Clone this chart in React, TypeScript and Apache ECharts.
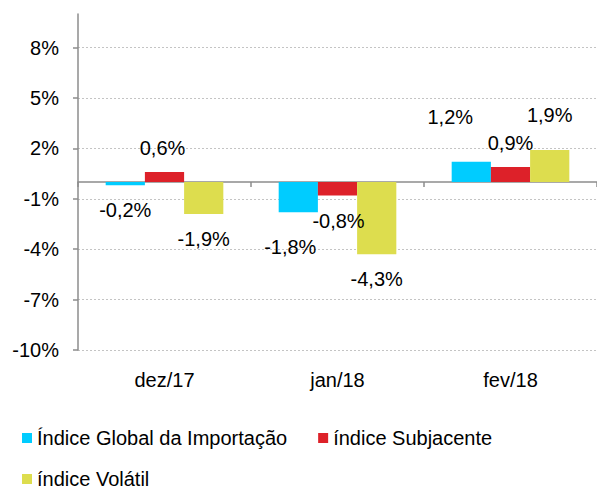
import React, { useEffect, useRef } from "react";
import * as echarts from "echarts";

const categories = ["dez/17", "jan/18", "fev/18"];
const seriesNames = ["Índice Global da Importação", "índice Subjacente", "índice Volátil"];
const globalValues = [-0.2, -1.8, 1.2];
const subjacenteValues = [0.6, -0.8, 0.9];
const volatilValues = [-1.9, -4.3, 1.9];
const yTicks = [-10, -7, -4, -1, 2, 5, 8];

const colors = ["#00CCFF", "#DD2129", "#DDDD4E"];
// label offsets [dx, dy] per series per category
const labelOffsets = [
  [[0, 10], [-8, 20], [-21, -30]],
  [[-2, -9], [1, 11], [0, -9]],
  [[0, 10], [0, 10], [0, -20]],
];

const FONT = "Arial, 'Liberation Sans', sans-serif";
const FS = 20;

const fmt = (v: number) => v.toFixed(1).replace(".", ",") + "%";

export default function App() {
  const ref = useRef<HTMLDivElement>(null);
  useEffect(() => {
    document.body.style.margin = "0";
    if (!ref.current) return;
    const chart = echarts.init(ref.current, null, { renderer: "svg" });
    const allValues = [globalValues, subjacenteValues, volatilValues];
    const series = allValues.map((vals, si) => ({
      name: seriesNames[si],
      type: "bar",
      xAxisIndex: 0,
      barGap: "0%",
      barCategoryGap: "32%",
      itemStyle: { color: colors[si] },
      data: vals.map((v, ci) => ({
        value: v,
        label: {
          show: true,
          position: v >= 0 ? "top" : "bottom",
          offset: labelOffsets[si][ci],
          formatter: (p: any) => fmt(p.value),
          color: "#000",
          fontSize: FS,
          fontFamily: FONT,
        },
      })),
    }));
    chart.setOption({
      animation: false,
      backgroundColor: "#fff",
      textStyle: { fontFamily: FONT },
      grid: { left: 78, right: -5, top: 14, bottom: 140, containLabel: false },
      legend: [
        {
          data: [seriesNames[0], seriesNames[1]],
          left: 17,
          top: 423,
          itemWidth: 10,
          itemHeight: 10,
          itemGap: 31,
          icon: "rect",
          textStyle: { fontSize: FS, color: "#000", fontFamily: FONT },
        },
        {
          data: [seriesNames[2]],
          left: 17,
          top: 464,
          itemWidth: 10,
          itemHeight: 10,
          icon: "rect",
          textStyle: { fontSize: FS, color: "#000", fontFamily: FONT },
        },
      ],
      xAxis: [
        {
          type: "category",
          data: categories,
          position: "bottom",
          axisLine: { show: false, onZero: false },
          axisTick: { show: false },
          axisLabel: { color: "#000", fontSize: FS, fontFamily: FONT, margin: 20 },
        },
        {
          type: "category",
          data: categories,
          position: "bottom",
          axisLine: { show: true, onZero: true, lineStyle: { color: "#8c8c8c", width: 1.5 } },
          axisTick: { show: true, length: 5, lineStyle: { color: "#8c8c8c", width: 1.5 } },
          axisLabel: { show: false },
          splitLine: { show: false },
        },
      ],
      yAxis: {
        type: "value",
        min: -10,
        max: 10,
        interval: 3,
        axisLine: { show: true, lineStyle: { color: "#8c8c8c", width: 1.5 } },
        axisTick: { show: true, length: 5, lineStyle: { color: "#8c8c8c", width: 1.5 } },
        axisLabel: {
          color: "#000",
          fontSize: FS,
          fontFamily: FONT,
          margin: 19,
          showMaxLabel: false,
          formatter: (v: number) => (yTicks.includes(v) ? v + "%" : ""),
        },
        splitLine: {
          show: true,
          showMaxLine: false,
          lineStyle: { color: "#c4c4c4", type: [2, 2], width: 1 },
        },
      },
      series,
    });
    return () => chart.dispose();
  }, []);
  return <div ref={ref} style={{ width: 597, height: 490 }} />;
}
